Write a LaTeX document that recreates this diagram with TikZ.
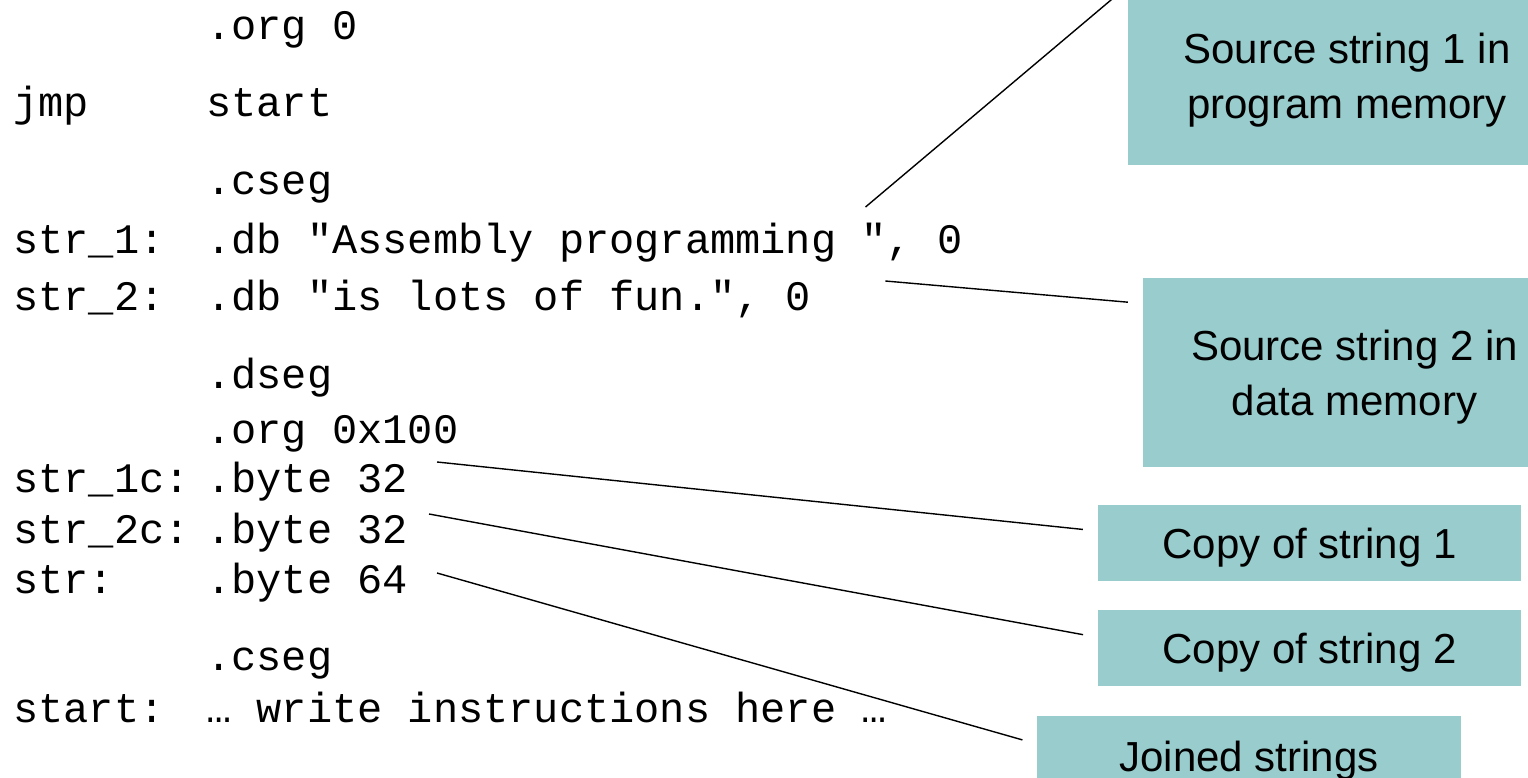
\documentclass[tikz,border=0pt]{standalone}
\usepackage{xcolor}
\usepackage{fontspec}
\setsansfont{Liberation Sans}
\setmonofont{Liberation Mono}
\usepackage{tikz}
\usetikzlibrary{positioning}
\definecolor{boxteal}{RGB}{153,204,204}

\begin{document}
\begin{tikzpicture}[x=1pt, y=-1pt,
    code/.style={anchor=base west, inner sep=0pt, font=\ttfamily\fontsize{42}{42}\selectfont},
    note/.style={fill=boxteal, align=center, inner sep=0pt, text depth=0pt, font=\sffamily\fontsize{42}{55}\selectfont},
    lead/.style={line width=1.4pt, shorten >=15pt}]
    \useasboundingbox (0,0) rectangle (1528,778);
    \clip (0,0) rectangle (1528,778);

    \node[code] (o1) at (206,40) {.org 0};
    \node[code] (l2) at (13,117) {jmp};
    \node[code] (o2) at (206,117) {start};
    \node[code] (o3) at (206,195) {.cseg};
    \node[code] (l4) at (13,253) {str\_1:};
    \node[code] (o4) at (206,253) {.db "Assembly programming ", 0};
    \node[code] (l5) at (13,310) {str\_2:};
    \node[code] (o5) at (206,310) {.db "is lots of fun.", 0};
    \node[code] (o6) at (206,388) {.dseg};
    \node[code] (o7) at (206,443) {.org 0x100};
    \node[code] (l8) at (13,492) {str\_1c:};
    \node[code] (o8) at (206,492) {.byte 32};
    \node[code] (l9) at (13,543) {str\_2c:};
    \node[code] (o9) at (206,543) {.byte 32};
    \node[code] (l10) at (13,593) {str:};
    \node[code] (o10) at (206,593) {.byte 64};
    \node[code] (o11) at (206,670) {.cseg};
    \node[code] (l12) at (13,722) {start:};
    \node[code] (o12) at (206,722) {… write instructions here …};

    \node[note, minimum width=438pt, minimum height=179pt] (src1) at (1347,75.5) {Source string 1 in\\program memory};
    \node[note, minimum width=423pt, minimum height=189pt] (src2) at (1354.5,372.5) {Source string 2 in\\data memory};
    \node[note, minimum width=423pt, minimum height=76pt] (cpy1) at (1309.5,543) {Copy of string 1};
    \node[note, minimum width=423pt, minimum height=76pt, below=29pt of cpy1] (cpy2) {Copy of string 2};
    \node[note, minimum width=424pt, minimum height=80pt] (join) at (1249,756) {Joined strings};

    \coordinate[above left=46pt and 97pt of o4.base east] (p1);
    \coordinate[above right=29pt and 74pt of o5.base east] (p2);
    \coordinate[above right=30pt and 29pt of o8.base east] (p3);
    \coordinate[above right=29pt and 21pt of o9.base east] (p4);
    \coordinate[above right=20pt and 29pt of o10.base east] (p5);

    \draw[lead] (p1) -- (src1.north west);
    \draw[lead] (p2) -- ([yshift=69pt]src2.west);
    \draw[lead] (p3) -- ([yshift=12pt]cpy1.west);
    \draw[lead] (p4) -- ([yshift=11pt]cpy2.west);
    \draw[lead] (p5) -- ([yshift=12pt]join.west);
\end{tikzpicture}
\end{document}
